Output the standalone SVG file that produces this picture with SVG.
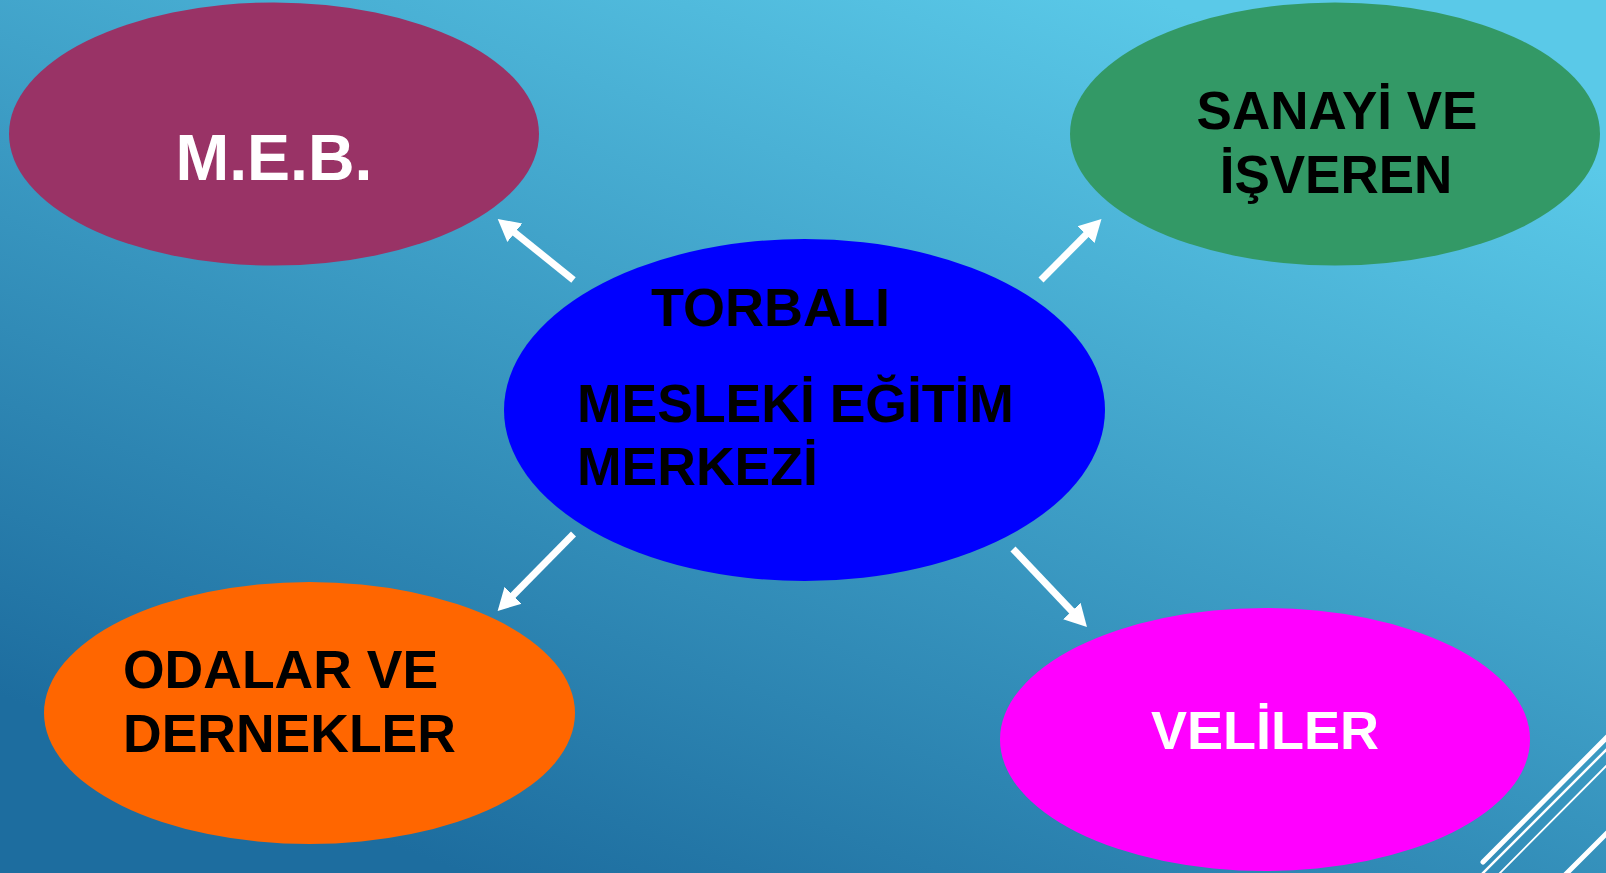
<svg xmlns="http://www.w3.org/2000/svg" width="1606" height="873" viewBox="0 0 1606 873">
  <defs>
    <linearGradient id="bg" gradientUnits="userSpaceOnUse" x1="1000" y1="-60" x2="620" y2="933">
      <stop offset="0" stop-color="#5ac9e8"/>
      <stop offset="1" stop-color="#1d6d9f"/>
    </linearGradient>
    <marker id="head" markerUnits="userSpaceOnUse" markerWidth="24" markerHeight="26" viewBox="0 -13 24 26" refX="2" refY="0" orient="auto">
      <path d="M0,-12 L22,0 L0,12 Z" fill="#ffffff"/>
    </marker>
  </defs>
  <style>
    .lbl { font-family: "Liberation Sans", Arial, sans-serif; font-weight: bold; }
    .conn { stroke: #ffffff; stroke-width: 7; fill: none; marker-end: url(#head); }
    .deco { stroke: #ffffff; fill: none; stroke-linecap: round; }
  </style>
  <rect x="0" y="0" width="1606" height="873" fill="url(#bg)"/>

  <g id="decor">
    <line class="deco" x1="1483" y1="862" x2="1620" y2="724" stroke-width="5"/>
    <line class="deco" x1="1480" y1="876" x2="1620" y2="736" stroke-width="2.5"/>
    <line class="deco" x1="1497" y1="876" x2="1620" y2="752" stroke-width="1.8"/>
    <line class="deco" x1="1564" y1="876" x2="1620" y2="820" stroke-width="5"/>
  </g>

  <g id="connectors">
    <line class="conn" x1="573.5" y1="280" x2="513.3" y2="231.5"/>
    <line class="conn" x1="1041" y1="280" x2="1087.4" y2="233.2"/>
    <line class="conn" x1="573.5" y1="534" x2="511.7" y2="596.7"/>
    <line class="conn" x1="1013" y1="549" x2="1073.2" y2="612.5"/>
  </g>

  <g id="meb">
    <ellipse cx="274" cy="134" rx="265" ry="131.5" fill="#993366"/>
    <text class="lbl" x="274" y="180" font-size="64.5" fill="#ffffff" text-anchor="middle">M.E.B.</text>
  </g>

  <g id="sanayi">
    <ellipse cx="1335" cy="134" rx="265" ry="131.5" fill="#339966"/>
    <text class="lbl" font-size="53" fill="#000000" text-anchor="middle"><tspan x="1337" y="129">SANAYİ VE</tspan><tspan x="1336" y="193">İŞVEREN</tspan></text>
  </g>

  <g id="merkez">
    <ellipse cx="804.5" cy="410" rx="300.5" ry="171" fill="#0000ff"/>
    <text class="lbl" x="651" y="326" font-size="54" fill="#000000">TORBALI</text>
    <text class="lbl" font-size="53.5" fill="#000000"><tspan x="577" y="422">MESLEKİ EĞİTİM</tspan><tspan x="577" y="485">MERKEZİ</tspan></text>
  </g>

  <g id="odalar">
    <ellipse cx="309.5" cy="713" rx="265.5" ry="131" fill="#ff6600"/>
    <text class="lbl" font-size="53.5" fill="#000000"><tspan x="123" y="688">ODALAR VE</tspan><tspan x="123" y="752">DERNEKLER</tspan></text>
  </g>

  <g id="veliler">
    <ellipse cx="1265" cy="739.5" rx="265" ry="131.5" fill="#ff00ff"/>
    <text class="lbl" x="1265" y="749" font-size="54" fill="#ffffff" text-anchor="middle">VELİLER</text>
  </g>
</svg>
